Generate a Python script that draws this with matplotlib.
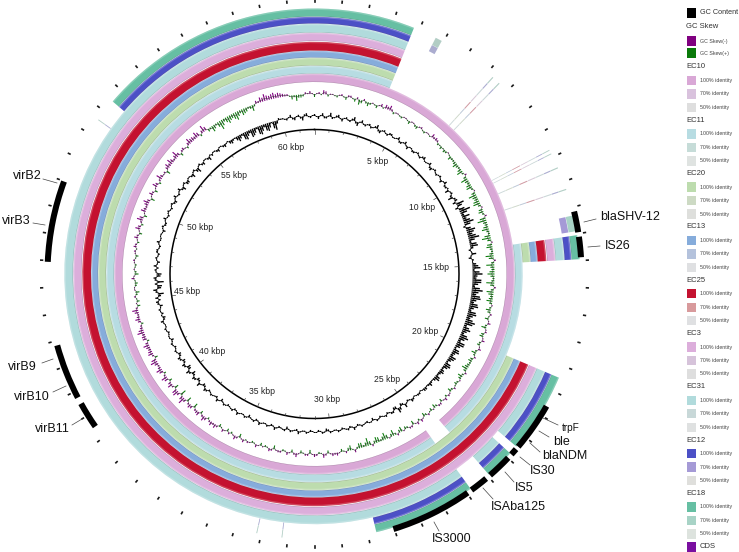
import numpy as np
import matplotlib
matplotlib.use('Agg')
import matplotlib.pyplot as plt
from matplotlib.patches import Rectangle

plt.rcParams['font.family'] = ['Liberation Sans', 'DejaVu Sans']

GENOME_KB = 62.0

# desvio do GC content nos kbp inteiros e quartos (4 por bloco = 1 kbp)
gc_dev = [
    2, -3, 3, -2,  4, -1, 3, -3,  2, -2, 4, -4,  3, -2, 2, -1,
    4, -3, 2, -2,  2, -1, 3, -2,  3, -3, 1, -2,  2, -2, 3, -1,
    3, -3, 2, -2,  2, -3, 3, -2,  -4, 2, -5, 3,  8, -3, 11, 3,
    4, 10, -2, 9,  5, 11, 2, 8,  -2, 5, -3, 1,  6, 2, 10, 4,
    9, 3, 11, 5,  10, 4, 9, 3,  9, 4, 10, 3,  8, 3, 9, 3,
    8, 2, 7, 3,  6, 2, 7, 2,  5, 2, 6, 1,  4, 1, 3, -1,
    2, -1, 3, -2,  4, -3, 5, -3,  2, -2, 1, -2,  2, -3, 1, -1,
    2, -2, 3, -2,  1, -2, 2, -1,  2, -3, 2, -2,  1, -2, 2, -1,
    3, -1, 2, -3,  1, -2, 3, -2,  2, -1, 3, -2,  1, -3, 2, -1,
    3, -2, 1, -2,  2, -3, 3, -1,  2, -2, 3, -3,  4, -3, 3, -4,
    4, -4, 3, -3,  3, -3, 2, -2,  2, -3, 1, -2,  2, -1, 3, -3,
    -2, 2, -3, 3,  3, -6, 4, -5,  -7, 3, -5, 2,  3, -3, 2, -2,
    2, -2, 3, -1,  1, -3, 2, -2,  3, -2, 2, -2,  2, -3, 3, -2,
    3, -4, 2, -3,  1, -4, 2, -5,  2, -3, 1, -4,  -2, 1, -3, 1,
    -3, 1, -4, -1,  -6, -2, -8, -3,  -7, -2, -9, -3,  -8, -1, -9, 2,
    1, -2, 3, -3,  2, -4, 3, -2,
]

# valores lidos entre os anteriores (deslocados 0.125 kbp)
gc_mid = [
    -1, 1, -2, 1,  -2, 2, -1, 1,  -1, 2, -2, 1,  -1, 1, -2, 2,
    -2, 1, -1, 2,  -1, 1, -2, 1,  -1, 1, -2, 1,  -1, 2, -1, 1,
    -2, 1, -1, 1,  -1, 1, -2, 1,  1, -2, 2, -3,  5, 6, 7, 8,
    7, 6, 5, 7,  8, 6, 7, 3,  1, -1, 2, 4,  8, 7, 5, 9,
    6, 8, 7, 9,  6, 8, 5, 8,  6, 7, 8, 6,  5, 7, 6, 8,
    5, 6, 4, 7,  4, 6, 5, 4,  3, 5, 3, 2,  2, 3, 1, 2,
    1, 2, -1, 1,  -2, 3, -3, 2,  -1, 2, -1, 1,  -1, 1, -2, 1,
    -1, 1, -1, 2,  -1, 1, -1, 1,  -2, 1, -1, 1,  -1, 1, -1, 1,
    -2, 1, -1, 2,  -1, 1, -1, 1,  -1, 1, -1, 2,  -1, 1, -1, 1,
    -1, 2, -1, 1,  -1, 1, -2, 1,  -1, 2, -2, 1,  -2, 2, -2, 2,
    -3, 2, -2, 2,  -2, 1, -1, 1,  -1, 1, -1, 1,  -1, 1, -2, 1,
    1, -1, 2, -2,  -3, 2, -4, 2,  2, -4, 1, -2,  -1, 1, -1, 2,
    -1, 1, -1, 1,  -1, 1, -2, 1,  -1, 1, -1, 1,  -2, 1, -1, 1,
    -2, 1, -3, 1,  -2, 1, -3, 1,  -2, 1, -2, 1,  1, -2, 1, -2,
    -1, -3, -2, -4,  -4, -7, -5, -8,  -5, -8, -6, -7,  -5, -7, -3, 1,
    -1, 1, -2, 1,  -2, 2, -1, 1,
]

# desvio do GC skew, mesmo passo: positivo = roxo, negativo = verde
skew_dev = [
    -3, 2, 4, -2,  1, -2, 2, -3,  2, -3, -5, 2,  -4, 1, -3, 3,
    4, 5, -2, 1,  -2, 1, -3, 1,  -3, 2, -2, 1,  4, 3, -2, -3,
    -3, 1, -4, -2,  -5, -2, -6, 2,  -7, -3, -6, 1,  -8, -4, -7, 1,
    -5, 2, -9, -3,  -7, -2, -9, 1,  -6, -2, -8, 2,  -8, -3, -7, -2,
    -8, 2, -7, -3,  -6, 1, -5, 2,  -4, 3, -5, 2,  -4, 3, -3, 3,
    -5, 2, -4, -3,  -6, 2, -5, 1,  -3, 2, -4, 2,  3, -3, 2, -4,
    -3, 2, -4, 3,  3, -4, 2, -3,  -5, 2, -6, 1,  -7, -2, -6, 2,
    -8, -2, -5, 3,  -5, 2, -3, 3,  3, -3, 4, -2,  3, -4, 2, -3,
    4, -3, 3, -2,  2, -4, 3, -2,  -3, 3, -2, 2,  3, -4, 4, -2,
    -3, 3, -3, 4,  4, -2, 5, -3,  3, -5, 4, -5,  7, -6, 6, -4,
    5, -3, 6, -2,  6, 2, 7, -3,  5, 3, 6, -2,  4, 7, 3, -2,
    5, 2, 6, -3,  -3, 2, -4, 1,  -3, 3, -4, 1,  -2, 2, -3, 2,
    3, -2, 4, -3,  5, -2, 6, -3,  5, 2, 6, -4,  4, -3, 5, -2,
    6, 1, -4, 5,  6, 2, 7, -3,  3, -2, 6, 4,  6, -2, 7, -3,
    -6, -2, -9, -3,  -7, -4, -8, -3,  -5, -2, -6, 3,  5, 7, 4, 6,
    5, 3, 2, -4,  -6, -3, 2, 3,
]

skew_mid = [
    1, -1, 3, 1,  -1, 1, -1, 2,  -1, 2, -3, -2,  -2, -1, 1, -1,
    3, 2, 1, -1,  1, -1, 1, -2,  1, -1, 1, -1,  2, 2, -1, -1,
    -2, -1, -2, -3,  -3, -4, -2, -3,  -4, -5, -2, -4,  -5, -6, -3, -4,
    -2, -6, -4, -5,  -3, -6, -4, -5,  -3, -4, -5, -3,  -4, -5, -4, -3,
    -4, -3, -5, -4,  -3, -2, -3, -1,  1, -2, 1, -3,  1, -2, 1, -2,
    -2, -3, -2, -4,  -3, -2, -3, -2,  -1, -2, 1, -2,  1, 2, -2, 1,
    -1, -2, 1, -2,  1, 2, -2, 1,  -3, -2, -3, -4,  -4, -5, -3, -4,
    -4, -5, -2, -1,  -3, -1, 1, 2,  1, 2, -1, 2,  1, 2, -1, 1,
    2, 1, -1, 2,  1, 2, -1, 1,  1, -1, 1, -1,  1, 2, 1, 2,
    1, -1, 2, 2,  2, 3, 2, 4,  2, 3, 2, 3,  4, 3, 5, 2,
    3, 4, 2, 4,  3, 4, 5, 2,  4, 4, 3, 4,  3, 5, 2, 3,
    3, 4, 2, 1,  -1, -2, 1, -2,  -1, 1, -2, -1,  1, -1, 1, -1,
    2, 1, 2, 1,  3, 2, 4, 1,  3, 4, 3, 1,  2, 1, 3, 2,
    3, 2, 3, 3,  4, 4, 3, 2,  1, 3, 4, 3,  4, 3, 4, -2,
    -4, -5, -6, -5,  -5, -6, -5, -6,  -4, -3, -2, 2,  4, 5, 5, 4,
    4, 2, -1, -2,  -3, -2, 1, 1,
]

# segmentos de cada anel (inicio, fim) em kbp; fim > 62 passa da origem
ec10_segs = [(24.89, 86.03)]
ec11_segs = [(14.05, 24.03), (24.89, 65.79)]
mid_segs = [(14.05, 14.95), (19.46, 65.79)]
ec31_segs = [(14.05, 14.95), (19.46, 22.48), (22.82, 23.94), (24.8, 65.79)]
outer_segs = [(14.05, 14.95), (19.46, 22.48), (22.82, 23.94), (24.8, 28.68), (53.48, 65.79)]
cds_segs = [(13.17, 13.95), (14.12, 14.88), (20.61, 22.44), (22.56, 22.82), (22.99, 23.92),
            (24.11, 24.8), (24.97, 28.04), (46.95, 49.99), (41.75, 43.83), (40.5, 41.5)]
shv_ec12 = (13.3, 13.9)
shv_ec18 = (13.3, 13.9)

ring_names = ['EC10', 'EC11', 'EC20', 'EC13', 'EC25', 'EC3', 'EC31', 'EC12', 'EC18']
ring_colors = ['#d9a8d6', '#b7dce2', '#bddcae', '#86acdb', '#c41230', '#dcaedb', '#b1dbdc', '#4c50c6', '#66bfa3']
ring_colors_70 = ['#d9c2dd', '#c6dcd8', '#cddac4', '#b4c2dc', '#d89a9c', '#d6c3da', '#c8d8d8', '#a59ad6', '#a8d3c6']
ring_colors_50 = ['#dedede', '#dfe3e1', '#dedfdc', '#dfe0e2', '#dfe0e2', '#dedede', '#dfe1e1', '#dfdfdc', '#dde3de']
ring_inner = [192, 200.5, 208.5, 216.5, 223.5, 233, 241.5, 250.5, 257.5]
ring_outer = [200.2, 208.2, 216.2, 223.2, 232.2, 241.2, 250.2, 257.2, 265.5]
ring_segs = [ec10_segs, ec11_segs, mid_segs, mid_segs, mid_segs, mid_segs, ec31_segs, outer_segs, outer_segs]

# acertos fracos fora dos aneis (kbp, largura em kbp, indice do primeiro anel)
hit_kb = [7.25, 7.57, 4.68, 10.7, 10.85, 11.42, 12.28, 52.6, 33.15, 32.2]
hit_width = [0.04, 0.04, 0.25, 0.03, 0.03, 0.04, 0.04, 0.03, 0.03, 0.03]
hit_first = [1, 1, 7, 1, 1, 1, 1, 7, 7, 7]

major_labels = ['5 kbp', '10 kbp', '15 kbp', '20 kbp', '25 kbp', '30 kbp', '35 kbp', '40 kbp', '45 kbp', '50 kbp', '55 kbp', '60 kbp']
major_label_x = [378, 422, 436, 425, 387, 327, 262, 212, 187, 200, 234, 291]
major_label_y = [162, 207, 268, 331, 379, 400, 391, 351, 291, 228, 176, 148]

gene_names = ['virB2', 'virB3', 'virB9', 'virB10', 'virB11', 'trpF', 'ble', 'blaNDM', 'IS30', 'IS5',
              'ISAba125', 'IS3000', 'blaSHV-12', 'IS26']
gene_x = [27, 16, 22, 32, 52, 571, 562, 565, 543, 524, 518, 452, 630, 618]
gene_y = [176, 221, 367, 397, 429, 428, 442, 456, 471, 488, 507, 539, 217, 246]
gene_size = [9, 9, 9, 9, 9, 7.2, 9, 9, 9, 9, 9, 9, 9, 9]
leader_x0 = [43, 33, 42, 53, 72, 558, 549, 540, 530, 514, 493, 439, 584, 588]
leader_y0 = [179, 223, 363, 392, 425, 425, 437, 452, 465, 482, 499, 531, 222, 247]
leader_x1 = [57, 45, 53, 66, 82, 543, 539, 530, 520, 505, 483, 434, 596, 600]
leader_y1 = [183, 225, 359, 386, 419, 418, 431, 443, 457, 472, 488, 522, 219, 246]


def kb_to_theta(kb):
    return np.asarray(kb, dtype=float) / GENOME_KB * 2 * np.pi


def intercalar(a, b):
    """Junta as duas leituras na ordem do genoma"""
    out = np.empty(len(a) + len(b))
    out[0::2] = a
    out[1::2] = b
    return out


def desenhar_segmento(ax, start, end, r0, r1, color, **kw):
    """Desenha um arco entre dois valores em kbp"""
    ax.bar(kb_to_theta((start + end) / 2), r1 - r0, width=kb_to_theta(end - start),
           bottom=r0, color=color, linewidth=0, align='center', **kw)


def desenhar_aneis(ax):
    for i in range(len(ring_names)):
        r0, r1 = ring_inner[i], ring_outer[i]
        for start, end in ring_segs[i]:
            desenhar_segmento(ax, start, end, r0, r1, ring_colors[i])
            # faixa clara por fora e borda fina por dentro, como no BRIG
            desenhar_segmento(ax, start, end, r1 - 1.4, r1, 'white', alpha=0.22)
            desenhar_segmento(ax, start, end, r0, r0 + 0.5, '#555555', alpha=0.3)
    desenhar_segmento(ax, shv_ec12[0], shv_ec12[1], ring_inner[7], ring_outer[7], ring_colors_70[7])
    desenhar_segmento(ax, shv_ec18[0], shv_ec18[1], ring_inner[8], ring_outer[8], ring_colors_70[8])
    for start, end in cds_segs:
        desenhar_segmento(ax, start, end, 264, 270, 'black')
    for kb, width, first in zip(hit_kb, hit_width, hit_first):
        for i in range(first, len(ring_names)):
            desenhar_segmento(ax, kb, kb + width, ring_inner[i], ring_outer[i], ring_colors[i], alpha=0.4)
            desenhar_segmento(ax, kb, kb + width, ring_inner[i], ring_outer[i], '#888888', alpha=0.25)


def desenhar_curvas(ax):
    gc = intercalar(gc_dev, gc_mid)
    skew = intercalar(skew_dev, skew_mid)
    th_gc = kb_to_theta(np.arange(len(gc)) * 0.125)
    th_skew = kb_to_theta(np.arange(len(skew)) * 0.125)

    base_gc = 158
    ax.bar(th_gc, gc, width=kb_to_theta(0.085), bottom=base_gc, color='black', linewidth=0)
    ax.plot(np.append(th_gc, 2 * np.pi), base_gc + np.append(gc, gc[0]) * 0.4, color='black', lw=0.45)

    base_skew = 180
    cores = ['#800080' if v > 0 else '#0a7a0a' for v in skew]
    ax.bar(th_skew, skew, width=kb_to_theta(0.06), bottom=base_skew, color=cores, linewidth=0)
    ax.plot(np.append(th_skew, 2 * np.pi), base_skew + np.append(skew, skew[0]) * 0.4, color='#3a3a3a', lw=0.35)


def desenhar_escala(ax):
    th = np.linspace(0, 2 * np.pi, 721)
    ax.plot(th, np.full_like(th, 144.5), color='black', lw=1.1)
    for kb in np.arange(0, 62):
        t = kb_to_theta(kb)
        length = 4 if kb % 5 == 0 else 2.2
        ax.plot([t, t], [144.5 - length, 144.5], color='#333333', lw=0.45)
        # marcas soltas por fora dos aneis
        ax.plot([t, t], [272.4, 274], color='#1a1a1a', lw=1.2)


def desenhar_textos(ov):
    for label, x, y in zip(major_labels, major_label_x, major_label_y):
        ov.text(x, y, label, fontsize=6.2, ha='center', va='center', color='#222222')
    for name, x, y, s in zip(gene_names, gene_x, gene_y, gene_size):
        ov.text(x, y, name, fontsize=s, ha='center', va='center', color='#111111')
    for x0, y0, x1, y1 in zip(leader_x0, leader_y0, leader_x1, leader_y1):
        ov.plot([x0, x1], [y0, y1], color='#444444', lw=0.5)


def swatch(ov, y, color):
    ov.add_patch(Rectangle((686.5, y - 4.7), 9.5, 9.4, facecolor=color, edgecolor='none'))


def desenhar_legenda(ov):
    swatch(ov, 13, 'black')
    ov.text(700, 13, 'GC Content', fontsize=5.2, va='center', color='#333333')
    ov.text(686, 27, 'GC Skew', fontsize=5.5, va='center', color='#333333')
    swatch(ov, 41, '#800080')
    ov.text(700, 41, 'GC Skew(-)', fontsize=3.8, va='center', color='#444444')
    swatch(ov, 53, '#0a7a0a')
    ov.text(700, 54, 'GC Skew(+)', fontsize=3.8, va='center', color='#444444')
    for i, name in enumerate(ring_names):
        y = 67 + 53.3 * i
        ov.text(686, y, name, fontsize=5.5, va='center', color='#333333')
        cores = [ring_colors[i], ring_colors_70[i], ring_colors_50[i]]
        textos = ['100% identity', '70% identity', '50% identity']
        for dy, cor, texto in zip([13.5, 27, 40.5], cores, textos):
            swatch(ov, y + dy, cor)
            ov.text(700, y + dy, texto, fontsize=3.8, va='center', color='#444444')
    swatch(ov, 547, '#7a0fa0')
    ov.text(700, 547, 'CDS', fontsize=5.5, va='center', color='#333333')


def main():
    W, H = 739, 552
    cx, cy, R = 314.5, 274.0, 300.0
    fig = plt.figure(figsize=(W / 100, H / 100), dpi=100)

    ax = fig.add_axes([(cx - R) / W, (H - cy - R) / H, 2 * R / W, 2 * R / H], projection='polar')
    ax.set_theta_zero_location('N')
    ax.set_theta_direction(-1)
    ax.axis('off')

    desenhar_aneis(ax)
    desenhar_curvas(ax)
    desenhar_escala(ax)
    ax.set_ylim(0, R)

    ov = fig.add_axes([0, 0, 1, 1])
    ov.set_xlim(0, W)
    ov.set_ylim(H, 0)
    ov.axis('off')
    ov.patch.set_alpha(0)

    desenhar_textos(ov)
    desenhar_legenda(ov)

    fig.savefig('out.png', dpi=100)


if __name__ == "__main__":
    main()
